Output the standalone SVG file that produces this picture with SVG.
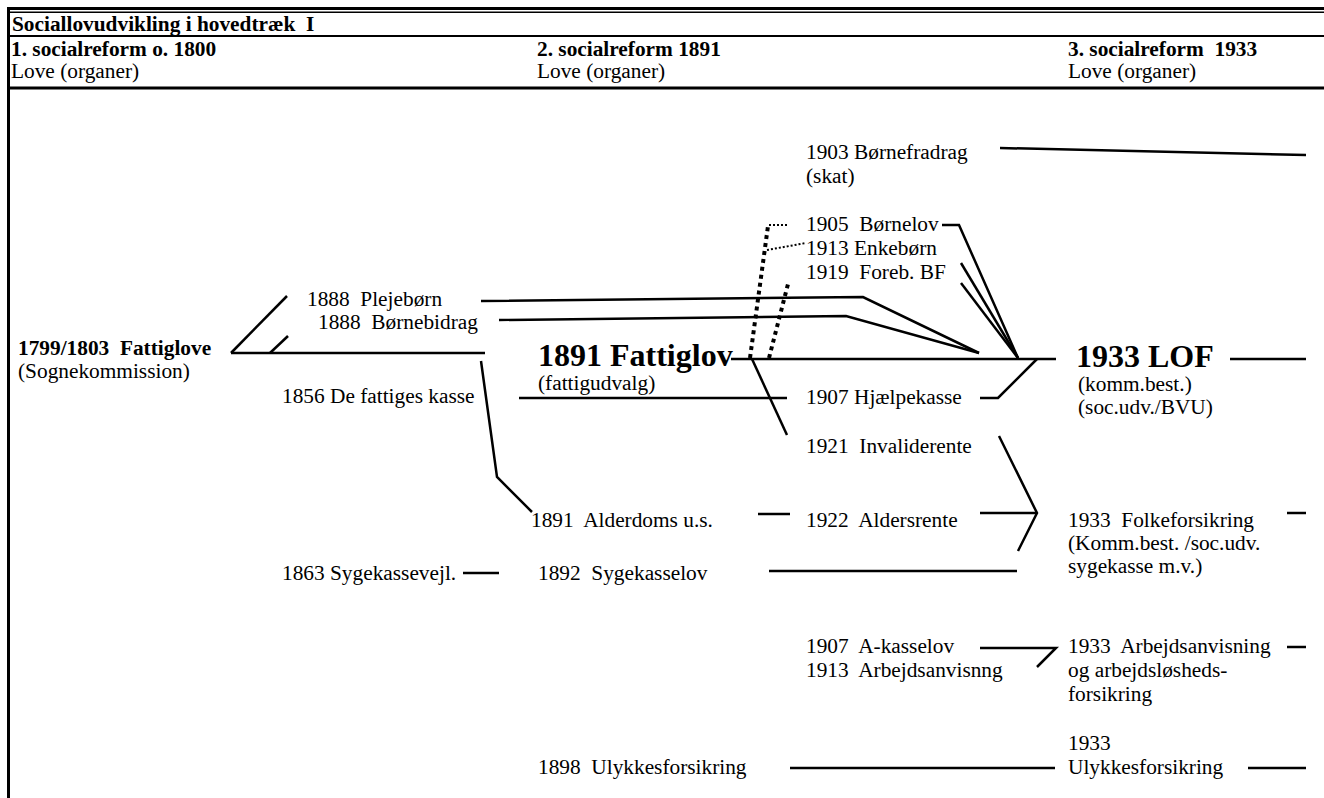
<svg xmlns="http://www.w3.org/2000/svg" width="1324" height="798" viewBox="0 0 1324 798">
<style>
text{font-family:'Liberation Serif','Times New Roman','DejaVu Serif',serif;font-size:21.33px;fill:#000;white-space:pre}
.b{font-weight:bold}
.big{font-weight:bold;font-size:32px}
.ln{fill:none;stroke:#000;stroke-width:2.5;stroke-linejoin:miter}
.dt{fill:none;stroke:#000;stroke-width:4;stroke-dasharray:4 4}
.dt2{fill:none;stroke:#000;stroke-width:2;stroke-dasharray:2 2}
</style>
<rect width="1324" height="798" fill="#fff"/>
<g id="frame">
<rect x="7" y="7" width="1317" height="3" fill="#000"/>
<rect x="7" y="11.5" width="1317" height="1.5" fill="#000"/>
<rect x="7" y="7" width="3" height="791" fill="#000"/>
<rect x="7" y="35" width="1317" height="2" fill="#000"/>
<rect x="7" y="86.5" width="1317" height="3" fill="#000"/>
</g>
<g font-family="Liberation Serif, serif">
<g id="header">
<text class="b" x="12" y="31">Sociallovudvikling i hovedtræk  I</text>
<text class="b" x="11" y="56">1. socialreform o. 1800</text>
<text x="11" y="78">Love (organer)</text>
<text class="b" x="537" y="56">2. socialreform 1891</text>
<text x="537" y="78">Love (organer)</text>
<text class="b" x="1068" y="56">3. socialreform  1933</text>
<text x="1068" y="78">Love (organer)</text>
</g>
<g id="connectors">
<polyline class="ln" points="231,353 485,353"/>
<polyline class="ln" points="231,353 287,296"/>
<polyline class="ln" points="270,353 288,336"/>
<polyline class="ln" points="481,301 863,297 979,353"/>
<polyline class="ln" points="499,320 846,316 979,353"/>
<polyline class="ln" points="481,361 497,477 532,512"/>
<polyline class="ln" points="519,398 787,398"/>
<polyline class="ln" points="731,359 1056,359"/>
<polyline class="ln" points="980,398 998,398 1037,359"/>
<polyline class="ln" points="752,359 787,435"/>
<polyline class="dt" points="750,358 768,226"/>
<polyline class="dt" points="769,358 788,284"/>
<polyline class="dt2" points="769,225 789,225"/>
<polyline class="dt2" points="767,250 806,243"/>
<polyline class="ln" points="1000,148 1306,155"/>
<polyline class="ln" points="942,225 959,225 1018,358"/>
<polyline class="ln" points="961,263 1018,358"/>
<polyline class="ln" points="961,283 1018,358"/>
<polyline class="ln" points="1230,359 1306,359"/>
<polyline class="ln" points="758,514 790,514"/>
<polyline class="ln" points="980,513 1037,513"/>
<polyline class="ln" points="999,436 1037,513 1018,551"/>
<polyline class="ln" points="1287,513 1306,513"/>
<polyline class="ln" points="463,573 499,573"/>
<polyline class="ln" points="769,571 1017,571"/>
<polyline class="ln" points="980,648 1056,648 1037,667"/>
<polyline class="ln" points="1287,647 1306,647"/>
<polyline class="ln" points="790,768 1055,768"/>
<polyline class="ln" points="1248,768 1306,768"/>
</g>
<g id="n-fattiglove1799">
<text class="b" x="18" y="355">1799/1803  Fattiglove</text>
<text x="18" y="378">(Sognekommission)</text>
</g>
<g id="n-plejeborn"><text x="307" y="306">1888  Plejebørn</text></g>
<g id="n-bornebidrag"><text x="318" y="329">1888  Børnebidrag</text></g>
<g id="n-fattigeskasse"><text x="282" y="403">1856 De fattiges kasse</text></g>
<g id="n-fattiglov1891">
<text class="big" x="538" y="366">1891 Fattiglov</text>
<text x="538" y="390">(fattigudvalg)</text>
</g>
<g id="n-bornefradrag">
<text x="806" y="159">1903 Børnefradrag</text>
<text x="806" y="183">(skat)</text>
</g>
<g id="n-bornelov"><text x="806" y="231">1905  Børnelov</text></g>
<g id="n-enkeborn"><text x="806" y="255">1913 Enkebørn</text></g>
<g id="n-forebbf"><text x="806" y="279">1919  Foreb. BF</text></g>
<g id="n-hjaelpekasse"><text x="806" y="404">1907 Hjælpekasse</text></g>
<g id="n-invaliderente"><text x="806" y="453">1921  Invaliderente</text></g>
<g id="n-lof">
<text class="big" x="1076" y="367">1933 LOF</text>
<text x="1078" y="391">(komm.best.)</text>
<text x="1078" y="414">(soc.udv./BVU)</text>
</g>
<g id="n-alderdoms"><text x="531" y="527">1891  Alderdoms u.s.</text></g>
<g id="n-aldersrente"><text x="806" y="527">1922  Aldersrente</text></g>
<g id="n-folkeforsikring">
<text x="1068" y="527">1933  Folkeforsikring</text>
<text x="1068" y="550">(Komm.best. /soc.udv.</text>
<text x="1068" y="573">sygekasse m.v.)</text>
</g>
<g id="n-sygekassevejl"><text x="282" y="580">1863 Sygekassevejl.</text></g>
<g id="n-sygekasselov"><text x="538" y="580">1892  Sygekasselov</text></g>
<g id="n-akasselov">
<text x="806" y="653">1907  A-kasselov</text>
<text x="806" y="677">1913  Arbejdsanvisnng</text>
</g>
<g id="n-arbejdsanvisning">
<text x="1068" y="653">1933  Arbejdsanvisning</text>
<text x="1068" y="677">og arbejdsløsheds-</text>
<text x="1068" y="701">forsikring</text>
</g>
<g id="n-ulykke1898"><text x="538" y="774">1898  Ulykkesforsikring</text></g>
<g id="n-ulykke1933">
<text x="1068" y="750">1933</text>
<text x="1068" y="774">Ulykkesforsikring</text>
</g>
</g>
</svg>
